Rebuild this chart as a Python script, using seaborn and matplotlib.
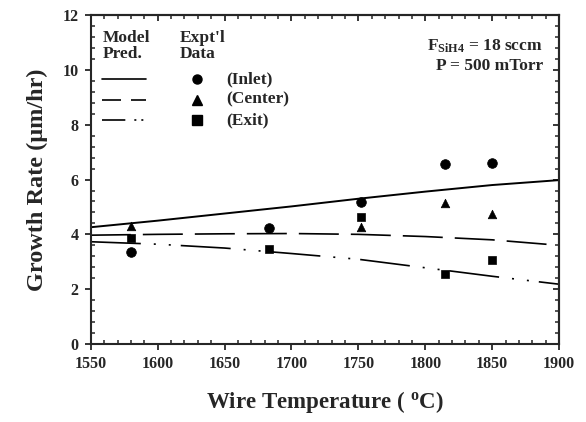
import matplotlib
matplotlib.use("Agg")
import matplotlib.pyplot as plt
from matplotlib.ticker import MultipleLocator
import seaborn as sns
import pandas as pd

# model predictions
model_temp = [1550, 1600, 1650, 1700, 1750, 1800, 1850, 1900]
model_inlet = [4.26, 4.50, 4.76, 5.02, 5.30, 5.56, 5.80, 5.98]
model_center = [3.97, 4.00, 4.02, 4.03, 4.00, 3.92, 3.80, 3.60]
model_exit = [3.73, 3.64, 3.50, 3.30, 3.09, 2.78, 2.47, 2.18]

# experimental data
inlet_temp = [1580, 1683, 1752, 1815, 1850]
inlet_rate = [3.35, 4.22, 5.17, 6.56, 6.61]
center_temp = [1580, 1752, 1815, 1850]
center_rate = [4.30, 4.28, 5.13, 4.74]
exit_temp = [1580, 1683, 1752, 1815, 1850]
exit_rate = [3.88, 3.46, 4.62, 2.55, 3.06]

sns.set_style("ticks")
plt.rcParams.update({
    "font.family": ["Liberation Serif", "DejaVu Serif"],
    "font.weight": "bold",
    "mathtext.fontset": "custom",
    "mathtext.rm": "Liberation Serif:bold",
    "mathtext.bf": "Liberation Serif:bold",
    "mathtext.it": "Liberation Serif:bold",
    "axes.linewidth": 1.5,
})

fig = plt.figure(figsize=(5.86, 4.22), dpi=100)
ax = fig.add_axes([0.155, 0.185, 0.799, 0.779])

solid = "-"
dashed = (0, (24, 7.2))
dashdotdot = (0, (30, 7.8, 1.2, 7.8, 1.2, 6))

df_model = pd.DataFrame({"T": model_temp, "inlet": model_inlet,
                         "center": model_center, "exit": model_exit})
sns.lineplot(data=df_model, x="T", y="inlet", ax=ax, color="black", lw=1.4, linestyle=solid)
sns.lineplot(data=df_model, x="T", y="center", ax=ax, color="black", lw=1.2, linestyle=dashed)
sns.lineplot(data=df_model, x="T", y="exit", ax=ax, color="black", lw=1.2, linestyle=dashdotdot)

sns.scatterplot(x=inlet_temp, y=inlet_rate, ax=ax, marker="o", color="black", s=48, edgecolor="black")
sns.scatterplot(x=center_temp, y=center_rate, ax=ax, marker="^", color="black", s=38, edgecolor="black")
sns.scatterplot(x=exit_temp, y=exit_rate, ax=ax, marker="s", color="black", s=36, edgecolor="black")

ax.set_xlim(1550, 1900)
ax.set_ylim(0, 12)
ax.xaxis.set_major_locator(MultipleLocator(50))
ax.xaxis.set_minor_locator(MultipleLocator(10))
ax.yaxis.set_major_locator(MultipleLocator(2))
ax.yaxis.set_minor_locator(MultipleLocator(0.4))
ax.tick_params(which="major", direction="out", length=4, width=1.3, labelsize=11.5, pad=5)
ax.tick_params(which="minor", direction="in", length=3, width=1.1)
for lab in ax.get_xticklabels() + ax.get_yticklabels():
    lab.set_fontweight("bold")

# ticks on top and right, pointing in
top = ax.secondary_xaxis("top")
top.xaxis.set_major_locator(MultipleLocator(50))
top.xaxis.set_minor_locator(MultipleLocator(10))
top.tick_params(which="both", direction="in", labeltop=False)
top.tick_params(which="major", length=4, width=1.3)
top.tick_params(which="minor", length=3, width=1.1)
right = ax.secondary_yaxis("right")
right.yaxis.set_major_locator(MultipleLocator(2))
right.yaxis.set_minor_locator(MultipleLocator(0.4))
right.tick_params(which="both", direction="in", labelright=False)
right.tick_params(which="major", length=4, width=1.3)
right.tick_params(which="minor", length=3, width=1.1)
for sp in ax.spines.values():
    sp.set_visible(True)

ax.set_xlabel(r"Wire Temperature ( $^{\mathbf{o}}$C)", fontsize=16.5, fontweight="bold", labelpad=12)
ax.set_ylabel("Growth Rate (\u03bcm/hr)", fontsize=17.5, fontweight="bold", labelpad=10)

# hand-made legend
fs = 12.5
ax.text(0.025, 0.955, "Model\nPred.", transform=ax.transAxes, fontsize=fs, fontweight="bold",
        va="top", ha="left", linespacing=1.0)
ax.text(0.19, 0.955, "Expt'l\nData", transform=ax.transAxes, fontsize=fs, fontweight="bold",
        va="top", ha="left", linespacing=1.0)
legend_styles = ["-", (0, (11.4, 6)), (2, (16, 5.4, 1.2, 3, 1.2, 3))]
rows = [("(Inlet)", legend_styles[0], "o"), ("(Center)", legend_styles[1], "^"),
        ("(Exit)", legend_styles[2], "s")]
for i, (name, ls, mk) in enumerate(rows):
    yy = 0.805 - i * 0.062
    ax.plot([0.023, 0.118], [yy, yy], transform=ax.transAxes, color="black", lw=1.2, linestyle=ls)
    ax.plot([0.227], [yy], transform=ax.transAxes, marker=mk, color="black", ms=6.5, linestyle="none")
    ax.text(0.29, yy, name, transform=ax.transAxes, fontsize=fs, fontweight="bold", va="center", ha="left")

ax.text(0.965, 0.905, r"F$_{\mathbf{SiH4}}$ = 18 sccm", transform=ax.transAxes, fontsize=fs,
        fontweight="bold", va="center", ha="right")
ax.text(0.965, 0.845, "P = 500 mTorr", transform=ax.transAxes, fontsize=fs,
        fontweight="bold", va="center", ha="right")

fig.savefig("out.png", dpi=100)
